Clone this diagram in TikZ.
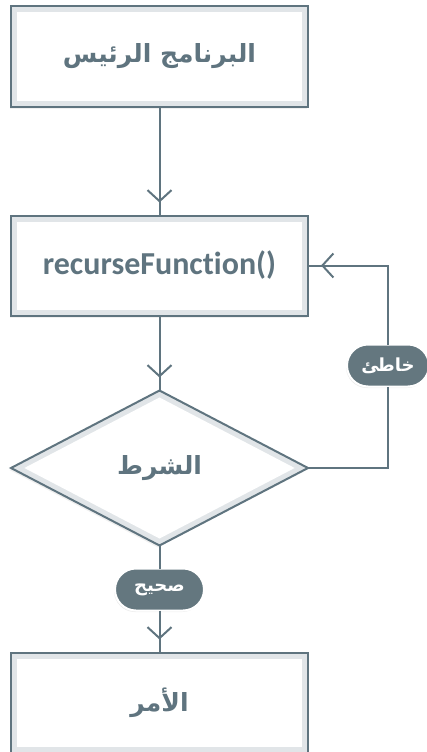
\documentclass[tikz,border=0pt]{standalone}
\usepackage{fontspec}
\setmainfont{Carlito}[Ligatures=NoCommon]
\newfontfamily\arabicfont[Script=Arabic]{DejaVu Sans}
\TeXXeTstate=1
\usetikzlibrary{arrows.meta,positioning,shapes.geometric,shadows,calc,decorations.markings}
\definecolor{FlowSlate}{HTML}{5F747F}
\definecolor{FlowBand}{HTML}{E1E5E8}
\definecolor{FlowPill}{HTML}{64777F}
\newcommand{\artext}[1]{{\arabicfont\bfseries\beginR #1\endR}}
\tikzset{
  flowbox/.style={
    draw=FlowSlate,
    fill=FlowBand,
    line width=2pt,
    minimum width=297pt,
    minimum height=100pt,
    inner sep=0pt,
    outer sep=0pt,
    text=FlowSlate,
    font=\fontsize{25}{29}\selectfont,
    drop shadow={shadow xshift=-1.5pt,shadow yshift=-2pt,opacity=0.12},
    path picture={\fill[white] ([shift={(6pt,6pt)}]path picture bounding box.south west)
      rectangle ([shift={(-6pt,-6pt)}]path picture bounding box.north east);}
  },
  flowdiamond/.style={
    diamond,
    draw=FlowSlate,
    fill=FlowBand,
    line width=2pt,
    minimum width=297pt,
    minimum height=155pt,
    inner sep=0pt,
    outer sep=0pt,
    text=FlowSlate,
    font=\fontsize{25}{29}\selectfont,
    drop shadow={shadow xshift=-1.5pt,shadow yshift=-2pt,opacity=0.12},
    path picture={\fill[white]
      ($(path picture bounding box.center)!0.91!(path picture bounding box.north)$) --
      ($(path picture bounding box.center)!0.91!(path picture bounding box.east)$) --
      ($(path picture bounding box.center)!0.91!(path picture bounding box.south)$) --
      ($(path picture bounding box.center)!0.91!(path picture bounding box.west)$) -- cycle;}
  },
  flowpill/.style={
    draw=white,
    fill=FlowPill,
    line width=2pt,
    rounded corners=21pt,
    minimum height=42pt,
    inner sep=0pt,
    outer sep=0pt,
    text=white,
    font=\fontsize{18}{21}\selectfont,
    drop shadow={shadow xshift=-1pt,shadow yshift=-1.5pt,opacity=0.15}
  },
  flowline/.style={draw=FlowSlate,line width=2pt},
  tipmark/.style={
    decoration={markings,
      mark=at position -13pt with {\arrow{Straight Barb[length=11pt,width=24pt]}}},
    postaction={decorate}
  }
}
\begin{document}
\begin{tikzpicture}[node distance=75pt]
  \useasboundingbox (0,0) rectangle (427pt,-752pt);
  \node[flowbox] (main) at (159.5pt,-56.5pt) {\artext{البرنامج الرئيس}};
  \node[flowbox,below=109pt of main,font=\fontsize{32}{37}\selectfont\bfseries] (func) {recurseFunction()};
  \node[flowdiamond,below=of func] (cond) {\artext{الشرط}};
  \node[flowpill,below=23pt of cond,minimum width=89pt] (yes) {\artext{صحيح}};
  \node[flowbox,below=42pt of yes] (act) {\artext{الأمر}};
  \node[flowpill,minimum width=82pt] (no) at ([shift={(80pt,-100pt)}]func.east) {\artext{خاطئ}};
  \draw[flowline,tipmark] (main) -- (func);
  \draw[flowline,tipmark] (func) -- (cond);
  \draw[flowline] (cond) -- (yes);
  \draw[flowline,tipmark] (yes) -- (act);
  \draw[flowline] (cond.east) -| (no.south);
  \draw[flowline,tipmark] (no.north) |- (func.east);
\end{tikzpicture}
\end{document}
